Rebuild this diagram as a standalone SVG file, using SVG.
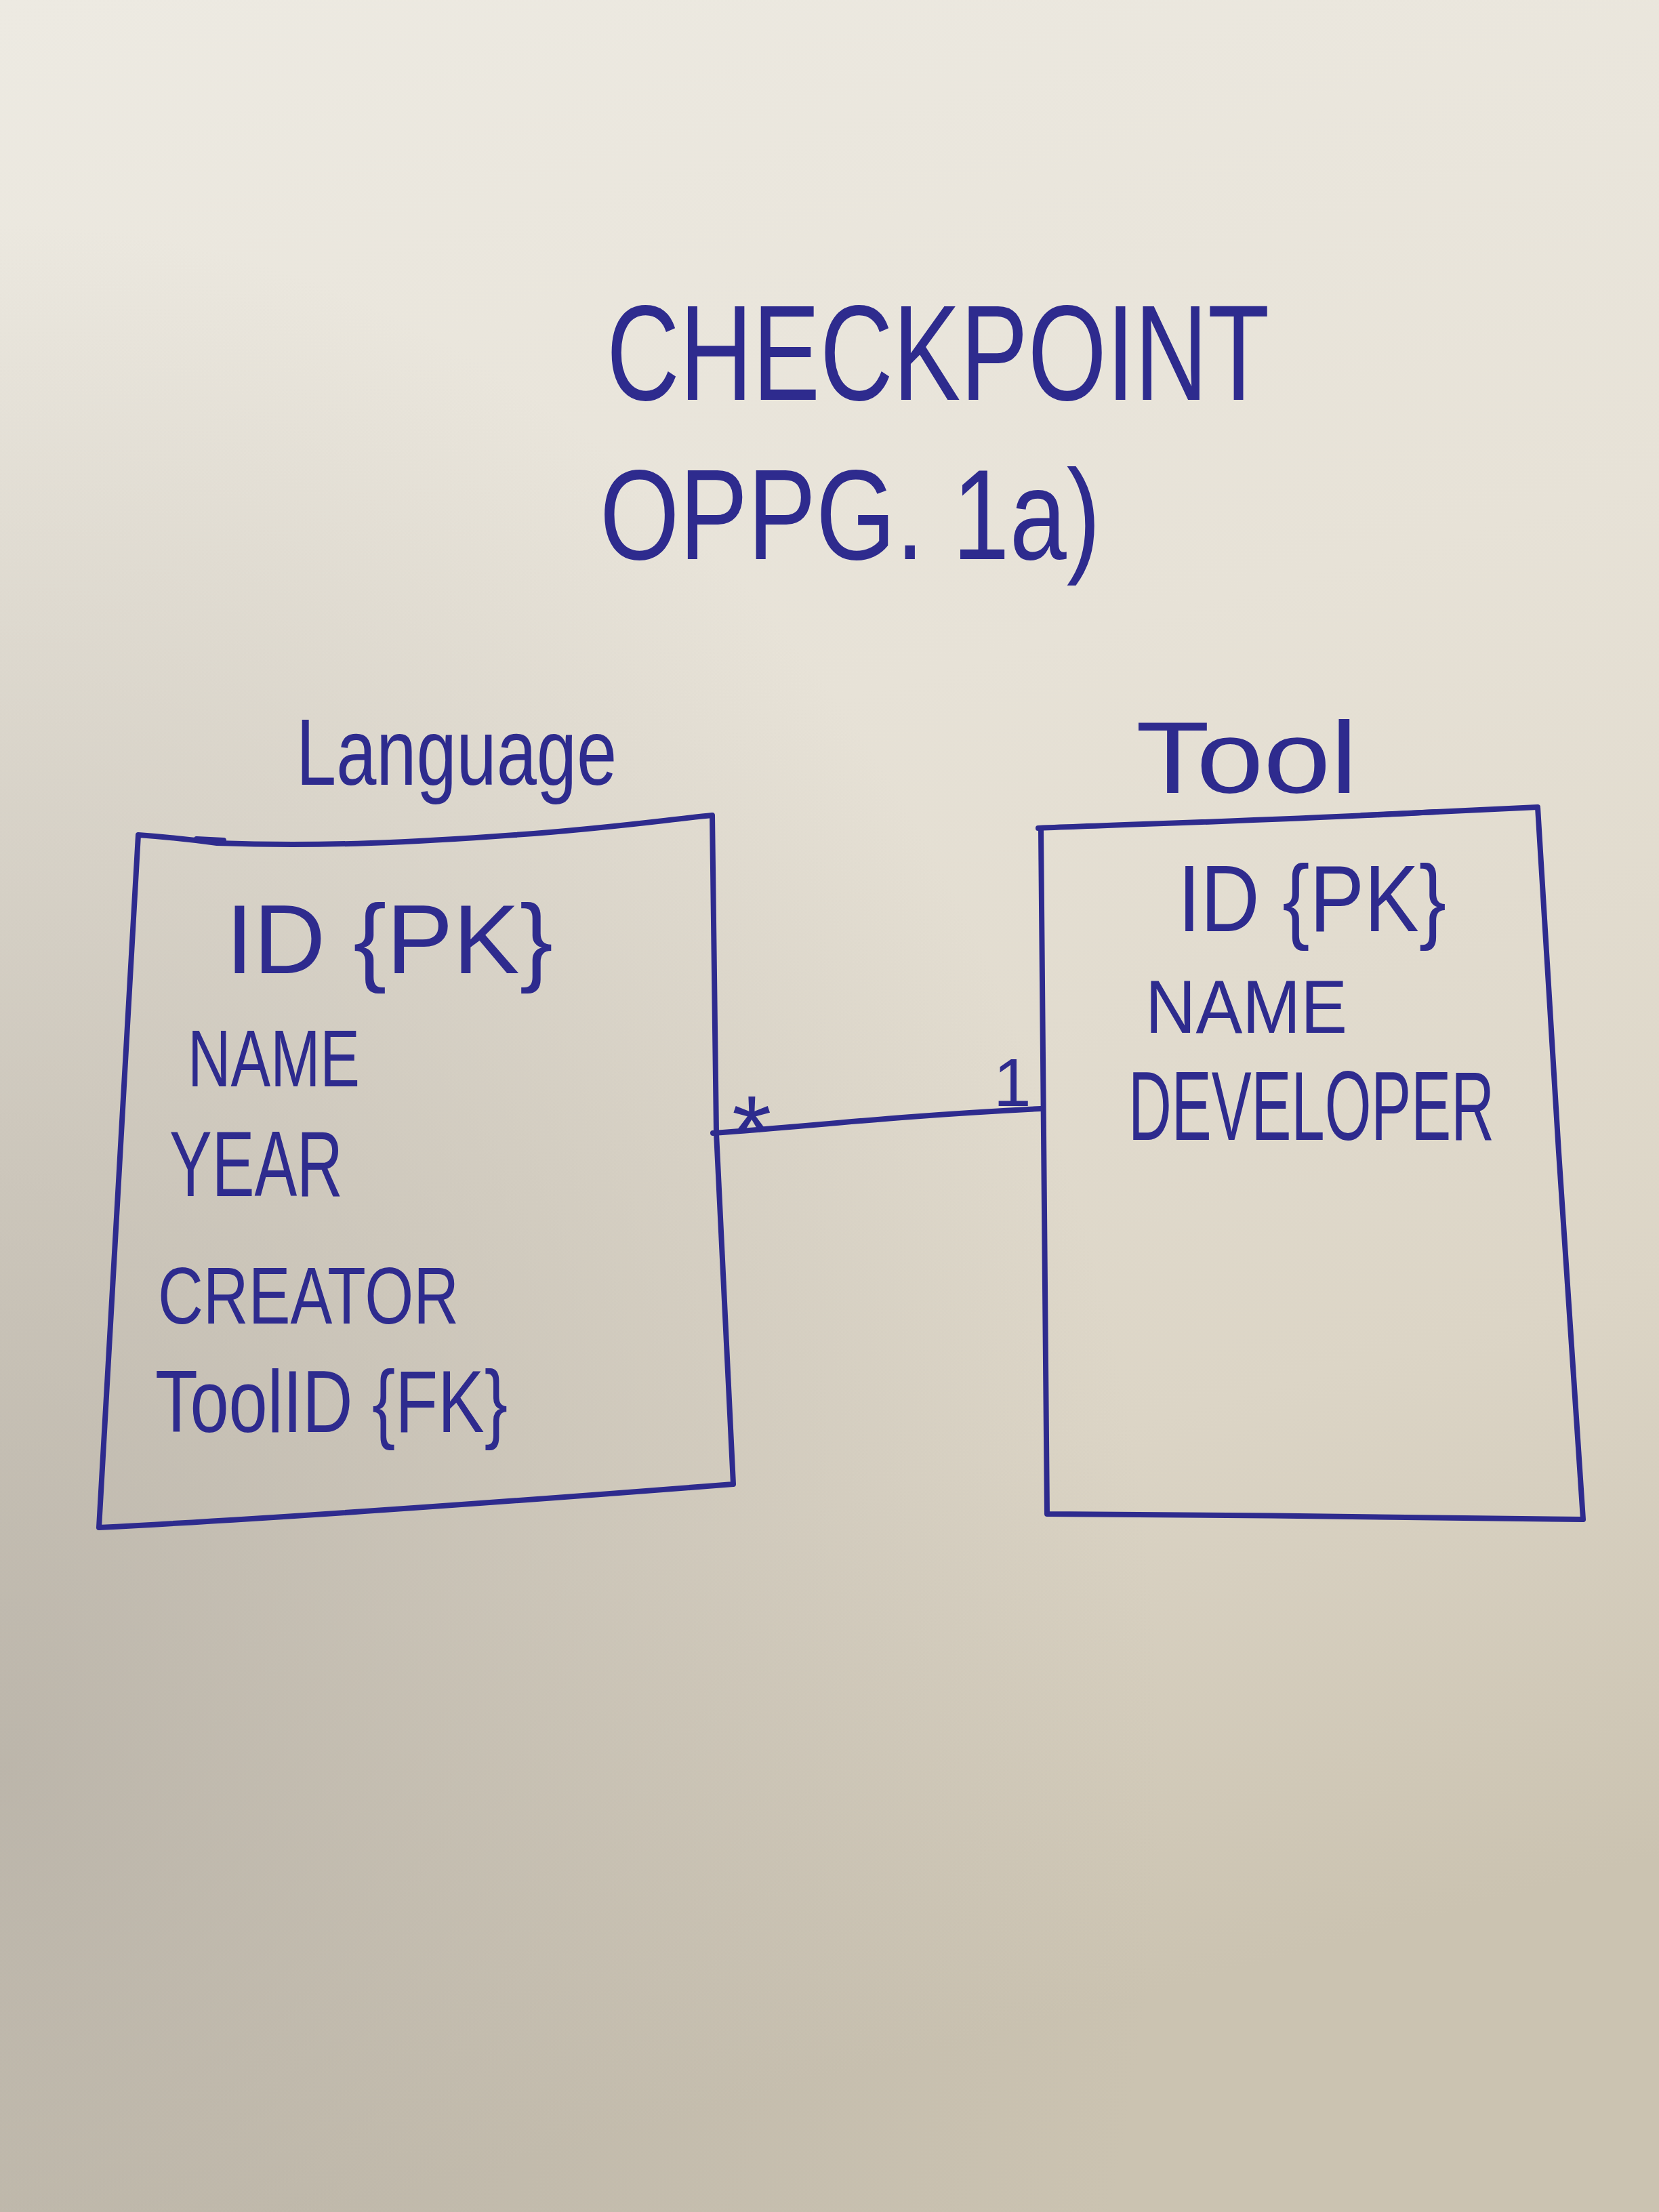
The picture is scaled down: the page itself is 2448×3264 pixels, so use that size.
<svg xmlns="http://www.w3.org/2000/svg" width="2448" height="3264" viewBox="0 0 2448 3264">
<defs>
<linearGradient id="paper" x1="0" y1="0" x2="0.2" y2="1">
<stop offset="0" stop-color="#edeae2"/>
<stop offset="0.4" stop-color="#e7e2d7"/>
<stop offset="0.75" stop-color="#dcd5c6"/>
<stop offset="1" stop-color="#cbc3b1"/>
</linearGradient>
<radialGradient id="shade" cx="0" cy="0.8" r="0.7">
<stop offset="0" stop-color="#b4aea4" stop-opacity="0.8"/>
<stop offset="1" stop-color="#b4aea4" stop-opacity="0"/>
</radialGradient>
<style>
.ink{fill:none;stroke:#2e2b8e;stroke-width:8;stroke-linecap:round;stroke-linejoin:round}
.t{font-family:"Liberation Sans","DejaVu Sans",sans-serif;fill:#2e2b8e;font-weight:normal}
</style>
</defs>
<rect width="2448" height="3264" fill="url(#paper)"/>
<rect width="2448" height="3264" fill="url(#shade)"/>

<g id="title">
<text class="t" x="895" y="590" font-size="200" textLength="978" lengthAdjust="spacingAndGlyphs">CHECKPOINT</text>
<text class="t" x="885" y="825" font-size="190" textLength="739" lengthAdjust="spacingAndGlyphs">OPPG. 1a)</text>
</g>

<g id="language">
<text class="t" x="437" y="1158" font-size="140" textLength="473" lengthAdjust="spacingAndGlyphs">Language</text>
<path class="ink" d="M204,1232 C260,1236 290,1240 320,1244 C480,1250 620,1242 760,1232 C900,1222 980,1210 1051,1203 L1057,1672 L1082,2190 C800,2212 420,2240 146,2254 L204,1232 Z"/>
<path class="ink" d="M290,1238 L330,1240"/>
<text class="t" x="333" y="1436" font-size="145" textLength="483" lengthAdjust="spacingAndGlyphs">ID  {PK}</text>
<text class="t" x="277" y="1603" font-size="118" textLength="254" lengthAdjust="spacingAndGlyphs">NAME</text>
<text class="t" x="250" y="1765" font-size="138" textLength="256" lengthAdjust="spacingAndGlyphs">YEAR</text>
<text class="t" x="233" y="1953" font-size="118" textLength="444" lengthAdjust="spacingAndGlyphs">CREATOR</text>
<text class="t" x="229" y="2113" font-size="130" textLength="520" lengthAdjust="spacingAndGlyphs">ToolID {FK}</text>
</g>

<g id="tool">
<text class="t" x="1676" y="1170" font-size="150" textLength="327" lengthAdjust="spacingAndGlyphs">Tool</text>
<path class="ink" d="M1532,1222 C1700,1215 1900,1210 2120,1198 L2269,1191 L2300,1700 L2336,2242 C2100,2238 1800,2236 1545,2234 L1536,1225"/>
<path class="ink" d="M2010,1203 L2120,1198"/>
<text class="t" x="1738" y="1374" font-size="140" textLength="396" lengthAdjust="spacingAndGlyphs">ID {PK}</text>
<text class="t" x="1690" y="1524" font-size="112" textLength="298" lengthAdjust="spacingAndGlyphs">NAME</text>
<text class="t" x="1665" y="1682" font-size="145" textLength="540" lengthAdjust="spacingAndGlyphs">DEVELOPER</text>
</g>

<g id="connectors">
<path class="ink" d="M1052,1672 C1200,1662 1300,1648 1536,1636" stroke-width="9"/>
<text class="t" x="1080" y="1722" font-size="150">*</text>
<text class="t" x="1466" y="1632" font-size="100">1</text>
</g>
</svg>
